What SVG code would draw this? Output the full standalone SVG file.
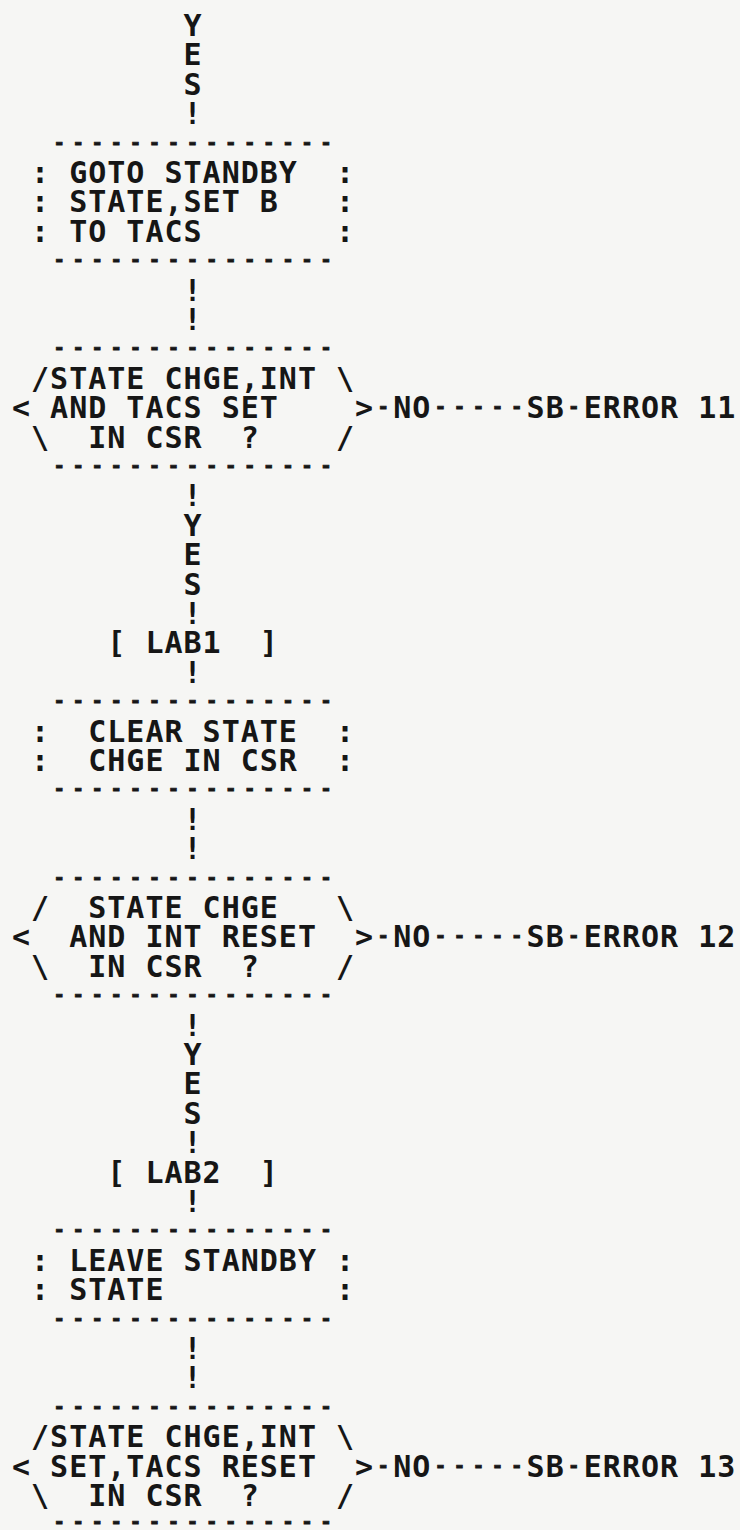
<svg xmlns="http://www.w3.org/2000/svg" width="740" height="1530" viewBox="0 0 740 1530">
<style>
text{font-family:"DejaVu Sans Mono","Liberation Mono",monospace;font-size:30px;font-weight:bold;letter-spacing:1px;fill:#161616}
text.d{font-size:19px;letter-spacing:7.62px;stroke:#161616;stroke-width:0.8px}
text.s{font-size:19px;letter-spacing:0;stroke:#161616;stroke-width:0.8px}
</style>
<rect x="0" y="0" width="740" height="1530" fill="#f6f6f4"/>
<g id="connectors">
<text x="183.54" y="36">Y</text>
<text x="183.54" y="65.4">E</text>
<text x="183.54" y="94.8">S</text>
<text x="183.54" y="124.2">!</text>
<text x="183.54" y="300.6">!</text>
<text x="183.54" y="330">!</text>
<text x="183.54" y="506.4">!</text>
<text x="183.54" y="535.8">Y</text>
<text x="183.54" y="565.2">E</text>
<text x="183.54" y="594.6">S</text>
<text x="183.54" y="624">!</text>
<text x="183.54" y="682.8">!</text>
<text x="183.54" y="829.8">!</text>
<text x="183.54" y="859.2">!</text>
<text x="183.54" y="1035.6">!</text>
<text x="183.54" y="1065">Y</text>
<text x="183.54" y="1094.4">E</text>
<text x="183.54" y="1123.8">S</text>
<text x="183.54" y="1153.2">!</text>
<text x="183.54" y="1212">!</text>
<text x="183.54" y="1359">!</text>
<text x="183.54" y="1388.4">!</text>
<text class="s" x="377.45" y="413.1">-</text><text x="393.2" y="418.2">NO</text><text class="d" x="434.63" y="413.1">----<tspan style="letter-spacing:0">-</tspan></text>
<text class="s" x="377.45" y="942.3">-</text><text x="393.2" y="947.4">NO</text><text class="d" x="434.63" y="942.3">----<tspan style="letter-spacing:0">-</tspan></text>
<text class="s" x="377.45" y="1471.5">-</text><text x="393.2" y="1476.6">NO</text><text class="d" x="434.63" y="1471.5">----<tspan style="letter-spacing:0">-</tspan></text>
</g>
<g id="box1">
<text class="d" x="53.43" y="148.5">---------------</text>
<text y="183"><tspan x="31.06">:</tspan><tspan x="69.18">GOTO</tspan><tspan x="164.48">STANDBY</tspan><tspan x="336.02">:</tspan></text>
<text y="212.4"><tspan x="31.06">:</tspan><tspan x="69.18">STATE,SET</tspan><tspan x="259.78">B</tspan><tspan x="336.02">:</tspan></text>
<text y="241.8"><tspan x="31.06">:</tspan><tspan x="69.18">TO</tspan><tspan x="126.36">TACS</tspan><tspan x="336.02">:</tspan></text>
<text class="d" x="53.43" y="266.1">---------------</text>
</g>
<g id="decision1">
<text class="d" x="53.43" y="354.3">---------------</text>
<text y="388.8"><tspan x="31.06">/STATE</tspan><tspan x="164.48">CHGE,INT</tspan><tspan x="336.02">\</tspan></text>
<text y="418.2"><tspan x="12">&lt;</tspan><tspan x="50.12">AND</tspan><tspan x="126.36">TACS</tspan><tspan x="221.66">SET</tspan><tspan x="355.08">&gt;</tspan></text>
<text y="447.6"><tspan x="31.06">\</tspan><tspan x="88.24">IN</tspan><tspan x="145.42">CSR</tspan><tspan x="240.72">?</tspan><tspan x="336.02">/</tspan></text>
<text class="d" x="53.43" y="471.9">---------------</text>
</g>
<g id="error11">
<text x="526.62" y="418.2">SB</text><text class="s" x="568.05" y="413.1">-</text><text y="418.2"><tspan x="583.8">ERROR</tspan><tspan x="698.16">11</tspan></text>
</g>
<g id="lab1">
<text y="653.4"><tspan x="107.3">[</tspan><tspan x="145.42">LAB1</tspan><tspan x="259.78">]</tspan></text>
</g>
<g id="box2">
<text class="d" x="53.43" y="707.1">---------------</text>
<text y="741.6"><tspan x="31.06">:</tspan><tspan x="88.24">CLEAR</tspan><tspan x="202.6">STATE</tspan><tspan x="336.02">:</tspan></text>
<text y="771"><tspan x="31.06">:</tspan><tspan x="88.24">CHGE</tspan><tspan x="183.54">IN</tspan><tspan x="240.72">CSR</tspan><tspan x="336.02">:</tspan></text>
<text class="d" x="53.43" y="795.3">---------------</text>
</g>
<g id="decision2">
<text class="d" x="53.43" y="883.5">---------------</text>
<text y="918"><tspan x="31.06">/</tspan><tspan x="88.24">STATE</tspan><tspan x="202.6">CHGE</tspan><tspan x="336.02">\</tspan></text>
<text y="947.4"><tspan x="12">&lt;</tspan><tspan x="69.18">AND</tspan><tspan x="145.42">INT</tspan><tspan x="221.66">RESET</tspan><tspan x="355.08">&gt;</tspan></text>
<text y="976.8"><tspan x="31.06">\</tspan><tspan x="88.24">IN</tspan><tspan x="145.42">CSR</tspan><tspan x="240.72">?</tspan><tspan x="336.02">/</tspan></text>
<text class="d" x="53.43" y="1001.1">---------------</text>
</g>
<g id="error12">
<text x="526.62" y="947.4">SB</text><text class="s" x="568.05" y="942.3">-</text><text y="947.4"><tspan x="583.8">ERROR</tspan><tspan x="698.16">12</tspan></text>
</g>
<g id="lab2">
<text y="1182.6"><tspan x="107.3">[</tspan><tspan x="145.42">LAB2</tspan><tspan x="259.78">]</tspan></text>
</g>
<g id="box3">
<text class="d" x="53.43" y="1236.3">---------------</text>
<text y="1270.8"><tspan x="31.06">:</tspan><tspan x="69.18">LEAVE</tspan><tspan x="183.54">STANDBY</tspan><tspan x="336.02">:</tspan></text>
<text y="1300.2"><tspan x="31.06">:</tspan><tspan x="69.18">STATE</tspan><tspan x="336.02">:</tspan></text>
<text class="d" x="53.43" y="1324.5">---------------</text>
</g>
<g id="decision3">
<text class="d" x="53.43" y="1412.7">---------------</text>
<text y="1447.2"><tspan x="31.06">/STATE</tspan><tspan x="164.48">CHGE,INT</tspan><tspan x="336.02">\</tspan></text>
<text y="1476.6"><tspan x="12">&lt;</tspan><tspan x="50.12">SET,TACS</tspan><tspan x="221.66">RESET</tspan><tspan x="355.08">&gt;</tspan></text>
<text y="1506"><tspan x="31.06">\</tspan><tspan x="88.24">IN</tspan><tspan x="145.42">CSR</tspan><tspan x="240.72">?</tspan><tspan x="336.02">/</tspan></text>
<text class="d" x="53.43" y="1528">---------------</text>
</g>
<g id="error13">
<text x="526.62" y="1476.6">SB</text><text class="s" x="568.05" y="1471.5">-</text><text y="1476.6"><tspan x="583.8">ERROR</tspan><tspan x="698.16">13</tspan></text>
</g>
</svg>
